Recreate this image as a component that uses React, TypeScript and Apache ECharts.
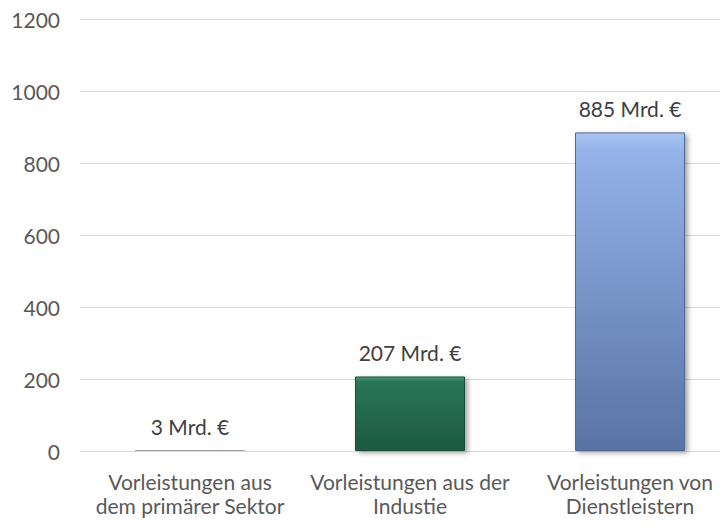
import React, { useEffect, useRef } from "react";
import * as echarts from "echarts";

const categories = [
  "Vorleistungen aus\ndem primärer Sektor",
  "Vorleistungen aus der\nIndustie",
  "Vorleistungen von\nDienstleistern",
];
const values = [3, 207, 885];
const valueLabels = ["3 Mrd. €", "207 Mrd. €", "885 Mrd. €"];
const yTicks = { min: 0, max: 1200, interval: 200 };

const barStyles = [
  { hi: "#c8c8c8", top: "#b0b0b0", bottom: "#9a9a9a", border: "#a0a0a0" },
  { hi: "#4f9e7e", top: "#2a7658", bottom: "#1c5942", border: "#1a4d39" },
  { hi: "#a9c4f0", top: "#93b2e8", bottom: "#5873a3", border: "#4f6896" },
];

export default function App() {
  const ref = useRef<HTMLDivElement>(null);
  useEffect(() => {
    if (!ref.current) return;
    const chart = echarts.init(ref.current, undefined, { renderer: "svg" });
    const font = "Lato, 'Open Sans', sans-serif";
    chart.setOption({
      animation: false,
      grid: { left: 80, right: 0, top: 19, bottom: 79, containLabel: false, outerBoundsMode: "none" },
      xAxis: {
        type: "category",
        data: categories,
        axisLine: { show: true, lineStyle: { color: "#d9d9d9", width: 1 } },
        axisTick: { show: false },
        axisLabel: {
          color: "#595959",
          fontFamily: font,
          fontSize: 21,
          lineHeight: 24,
          margin: 18,
          interval: 0,
        },
      },
      yAxis: {
        type: "value",
        min: yTicks.min,
        max: yTicks.max,
        interval: yTicks.interval,
        axisLine: { show: false },
        axisTick: { show: false },
        splitLine: { lineStyle: { color: "#d9d9d9", width: 1 } },
        axisLabel: {
          color: "#595959",
          fontFamily: font,
          fontSize: 21,
          margin: 20,
          formatter: (v: number) => String(v),
        },
      },
      series: [
        {
          type: "bar",
          barWidth: "50%",
          data: values.map((v, i) => ({
            value: v,
            itemStyle: {
              color: new echarts.graphic.LinearGradient(0, 0, 0, 1, [
                { offset: 0, color: barStyles[i].hi },
                { offset: 0.06, color: barStyles[i].top },
                { offset: 1, color: barStyles[i].bottom },
              ]),
              borderColor: barStyles[i].border,
              borderWidth: 1,
              shadowColor: "rgba(0,0,0,0.35)",
              shadowBlur: 5,
              shadowOffsetX: 3,
              shadowOffsetY: 2,
            },
          })),
          label: {
            show: true,
            position: "top",
            distance: 13,
            color: "#404040",
            fontFamily: font,
            fontSize: 21,
            formatter: (p: any) => valueLabels[p.dataIndex],
          },
        },
      ],
    });
    return () => chart.dispose();
  }, []);
  return (
    <div style={{ width: 728, height: 530, margin: -8, overflow: "hidden", position: "relative" }}>
      <div ref={ref} style={{ width: 740, height: 530 }} />
    </div>
  );
}
